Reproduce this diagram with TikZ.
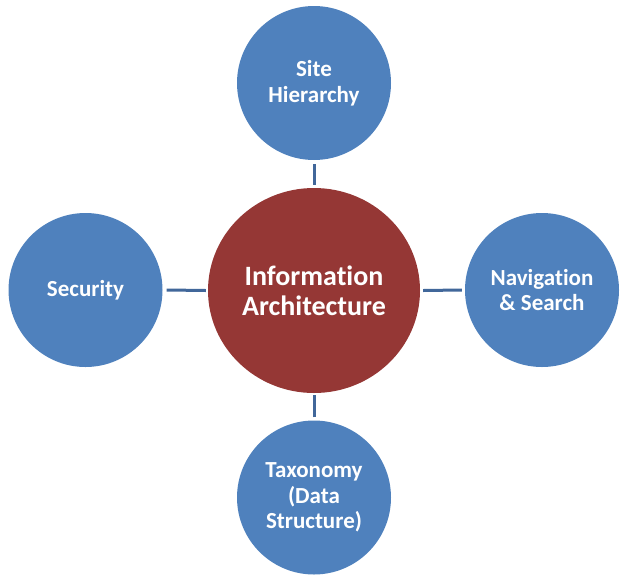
\documentclass[tikz,border=0pt]{standalone}
\usepackage{fontspec}
\setmainfont[Ligatures=NoCommon]{Carlito}
\usetikzlibrary{shapes.geometric}
\definecolor{ablue}{HTML}{4F81BD}
\definecolor{ared}{HTML}{953735}
\definecolor{aline}{HTML}{41679A}
\tikzset{
  outer/.style={circle, fill=ablue, minimum size=154pt, inner sep=0pt, text=white, align=center,
    font=\fontsize{23}{25.5}\selectfont\bfseries},
  hub/.style={ellipse, fill=ared, minimum width=212pt, minimum height=205pt, inner sep=0pt, text=white, align=center,
    font=\fontsize{28}{30}\selectfont\bfseries},
  conn/.style={draw=aline, line width=3pt}
}
\begin{document}
\begin{tikzpicture}[x=1pt,y=-1pt]
\useasboundingbox (0,0) rectangle (629,584);
\node[hub] (c) at (314,290.5) {Information\\Architecture};
\node[outer] (t) at (314,83) {Site\\Hierarchy};
\node[outer] (l) at (85.5,290) {Security};
\node[outer] (r) at (542,290) {Navigation\\\& Search};
\node[outer] (b) at (314,497.5) {Taxonomy\\(Data\\Structure)};
\draw[conn] ([yshift=-4pt]t.south) -- ([yshift=3pt]c.north);
\draw[conn] ([yshift=3pt]b.north) -- ([yshift=-2pt]c.south);
\draw[conn] ([xshift=4pt]l.east) -- ([xshift=-2pt]c.west);
\draw[conn] ([xshift=-3pt]r.west) -- ([xshift=3pt]c.east);
\end{tikzpicture}
\end{document}
